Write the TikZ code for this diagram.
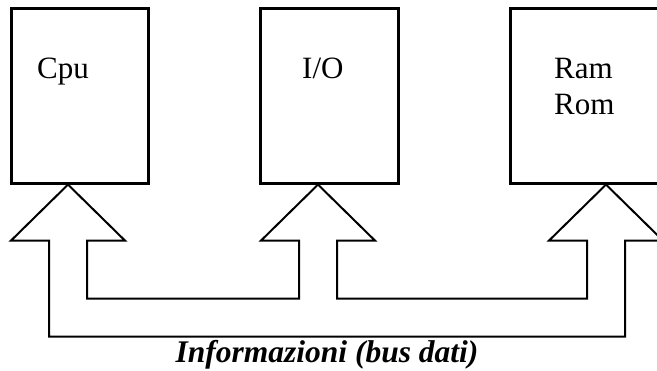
\documentclass[tikz,border=0pt]{standalone}
\usepackage{fontspec}
\setmainfont{Liberation Serif}
\usetikzlibrary{calc}
\begin{document}
\begin{tikzpicture}[x=1pt,y=-1pt,
  unitbox/.style={draw, line width=2.6pt, inner sep=0pt, minimum height=175pt, anchor=north west},
  unitlabel/.style={inner sep=0pt, anchor=base west, font=\fontsize{31}{36}\selectfont},
  busline/.style={draw, line width=2pt, line join=miter},
  buslabel/.style={inner sep=0pt, anchor=base, font=\fontsize{31.5}{36}\selectfont\bfseries\itshape}]
\useasboundingbox (0,0) rectangle (657,371);
\clip (0,0) rectangle (657,371);

% functional units
\node[unitbox, minimum width=137pt] (cpu) at (10,7) {};
\node[unitbox, minimum width=138pt] (io)  at (259,7) {};
\node[unitbox, minimum width=214pt] (mem) at (509,7) {};

\node[unitlabel] (cpulbl) at (37,79) {Cpu};
\node[unitlabel] (iolbl)  at (302,79) {I/O};
\node[unitlabel] (ramlbl) at (554,79) {Ram};
\node[unitlabel] (romlbl) at (554,115) {Rom};

% arrow tips of the bus, on the bottom edge of each unit
\coordinate (t1) at ($(cpu.south west)+(58,0)$);
\coordinate (t2) at ($(io.south west)+(59,0)$);
\coordinate (t3) at ($(mem.south west)+(97,0)$);

% data bus outline: three arrows joined by two channels
\draw[busline] (t1) -- ($(t1)+(-57,56)$) -- ($(t1)+(-19,56)$) -- ($(t1)+(-19,152)$)
  -- ($(t3)+(19,152)$) -- ($(t3)+(19,56)$) -- ($(t3)+(57,56)$) -- (t3)
  -- ($(t3)+(-57,56)$) -- ($(t3)+(-19,56)$) -- ($(t3)+(-19,114)$)
  -- ($(t2)+(19,114)$) -- ($(t2)+(19,56)$) -- ($(t2)+(57,56)$) -- (t2)
  -- ($(t2)+(-57,56)$) -- ($(t2)+(-19,56)$) -- ($(t2)+(-19,114)$)
  -- ($(t1)+(19,114)$) -- ($(t1)+(19,56)$) -- ($(t1)+(57,56)$) -- cycle;

\node[buslabel] (buslbl) at (327,363) {Informazioni (bus dati)};
\end{tikzpicture}
\end{document}
